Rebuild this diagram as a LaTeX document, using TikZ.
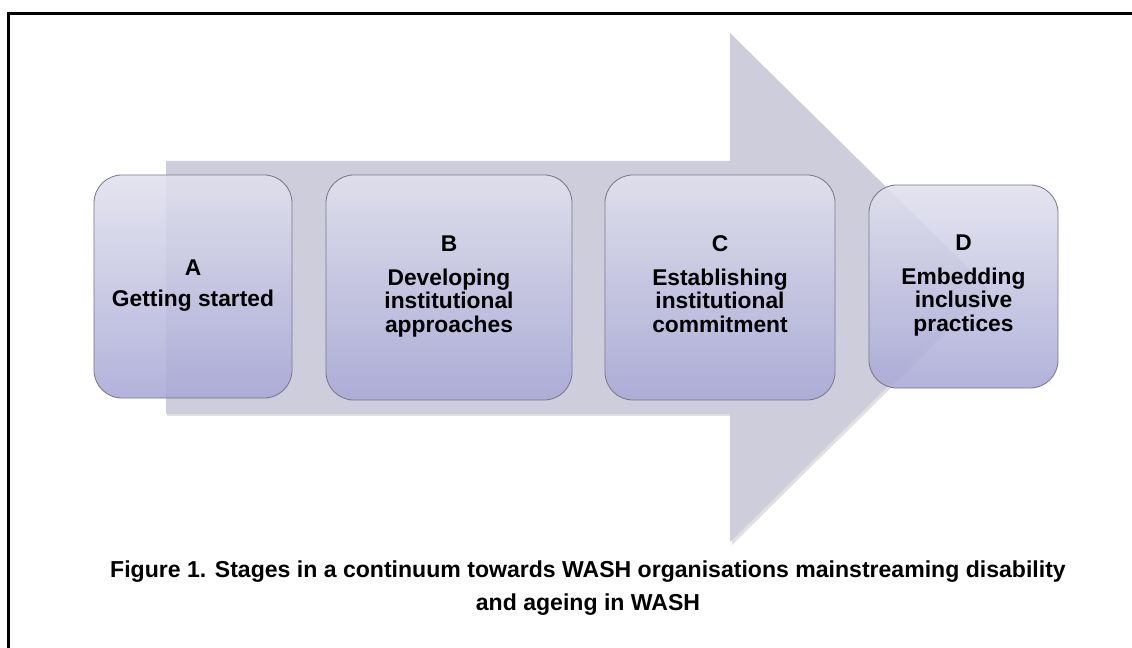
\documentclass[tikz,border=0pt]{standalone}
\usepackage{fontspec}
\setmainfont{Liberation Sans}
\definecolor{arrowfill}{RGB}{205,205,219}
\definecolor{boxtop}{RGB}{225,225,238}
\definecolor{boxbottom}{RGB}{168,168,214}
\definecolor{boxline}{RGB}{120,120,140}
\newcommand\stagefont{\fontsize{16.2}{16.8}\selectfont\bfseries}
\newcommand\captionfont{\fontsize{16.4}{23.5}\selectfont\bfseries}
\begin{document}
\begin{tikzpicture}[x=0.025cm, y=-0.025cm,
    stagebox/.style={draw=boxline, line width=0.6pt, rounded corners=0.7cm,
      top color=boxtop, bottom color=boxbottom, fill opacity=0.88, text opacity=1,
      align=center, font=\stagefont, inner sep=0pt,
      execute at begin node=\strut, execute at end node=\strut}]
    \useasboundingbox (0,0) rectangle (1132,648);
    % frame, only top and left edge fall inside the page
    \draw[line width=2.2pt] (8.5,700) |- (1200,13.5);
    % big arrow behind the stages
    \fill[black, opacity=0.12] (167,163) -- (732,163) -- (732,36) -- (990,290)
        -- (732,545) -- (732,416) -- (167,416) -- cycle;
    \fill[arrowfill] (166,161) -- (730,161) -- (730,33) -- (988,287.5)
        -- (730,542) -- (730,414) -- (166,414) -- cycle;
    % stages
    \node[stagebox, minimum width=4.95cm, minimum height=5.575cm] (stageA) at (193,286.5)
        {A\\[5.3pt]Getting started};
    \node[stagebox, minimum width=6.15cm, minimum height=5.625cm] (stageB) at (449,287.5)
        {B\\[7.4pt]Developing\\institutional\\approaches};
    \node[stagebox, minimum width=5.75cm, minimum height=5.625cm] (stageC) at (720,287.5)
        {C\\[7.4pt]Establishing\\institutional\\commitment};
    \node[stagebox, minimum width=4.725cm, minimum height=5.075cm] (stageD) at (963.5,286.5)
        {D\\[7.4pt]Embedding\\inclusive\\practices};
    % caption
    \node[font=\captionfont, align=center, inner sep=0pt] (caption) at (588,588)
        {Figure 1. Stages in a continuum towards WASH organisations mainstreaming disability\\and ageing in WASH};
\end{tikzpicture}
\end{document}
